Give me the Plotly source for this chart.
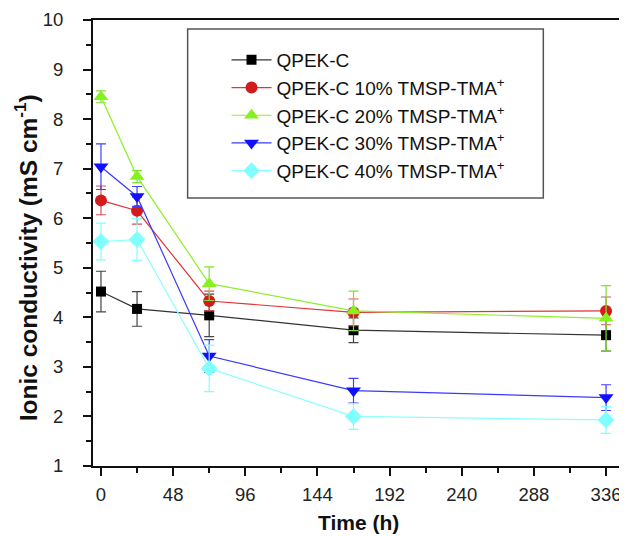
import plotly.graph_objects as go

times = [0, 24, 72, 168, 336]
names = ["QPEK-C",
         "QPEK-C 10% TMSP-TMA<sup>+</sup>",
         "QPEK-C 20% TMSP-TMA<sup>+</sup>",
         "QPEK-C 30% TMSP-TMA<sup>+</sup>",
         "QPEK-C 40% TMSP-TMA<sup>+</sup>"]
qpek_c = [4.52, 4.17, 4.04, 3.74, 3.64]
qpek_c_err = [0.41, 0.35, 0.43, 0.25, 0.32]
tm10 = [6.36, 6.15, 4.33, 4.10, 4.13]
tm10_err = [0.29, 0.27, 0.20, 0.27, 0.28]
tm20 = [8.45, 6.84, 4.68, 4.13, 3.98]
tm20_err = [0.12, 0.12, 0.34, 0.40, 0.66]
tm30 = [7.04, 6.44, 3.22, 2.52, 2.38]
tm30_err = [0.46, 0.20, 0.33, 0.25, 0.26]
tm40 = [5.53, 5.57, 2.97, 2.00, 1.93]
tm40_err = [0.37, 0.42, 0.47, 0.26, 0.27]

xticks = [0, 48, 96, 144, 192, 240, 288, 336]
yticks = [1, 2, 3, 4, 5, 6, 7, 8, 9, 10]

series = [qpek_c, tm10, tm20, tm30, tm40]
errors = [qpek_c_err, tm10_err, tm20_err, tm30_err, tm40_err]
line_colors = ["#333333", "#e03535", "#8cf02a", "#3a3aff", "#8affff"]
marker_colors = ["#000000", "#d01c1c", "#88f020", "#1010ff", "#80ffff"]
err_colors = ["#444444", "#e05050", "#80e030", "#4040ff", "#80ffff"]
symbols = ["square", "circle", "triangle-up", "triangle-down", "diamond"]
sizes = [10, 12, 13, 13, 13]

font = "Arial, 'Liberation Sans', sans-serif"

# page has an 8px body margin: figure is shifted, so size is reduced accordingly
W, H = 619, 528
L, R, T, B = 85, 0, 12, 70
PW, PH = W - L - R, H - T - B


def px(x):  # figure px -> paper x
    return (x - L) / PW


def py(y):  # figure px -> paper y
    return (H - B - y) / PH


fig = go.Figure()
for i in range(5):
    fig.add_trace(go.Scatter(
        x=times, y=series[i], name=names[i], mode="lines+markers",
        line=dict(color=line_colors[i], width=1.2),
        marker=dict(symbol=symbols[i], size=sizes[i], color=marker_colors[i],
                    line=dict(width=0)),
        error_y=dict(type="data", array=errors[i], color=err_colors[i],
                     thickness=1.2, width=5),
        legendgroup="g%d" % i,
    ))

fig.update_layout(
    width=W, height=H,
    margin=dict(l=L, r=R, t=T, b=B, pad=0),
    paper_bgcolor="white", plot_bgcolor="white",
    font=dict(family=font, size=18, color="#222222"),
    showlegend=True,
    legend=dict(x=px(219), y=py(33), xanchor="left", yanchor="top",
                bgcolor="rgba(0,0,0,0)", borderwidth=0,
                font=dict(size=19, color="#111111"),
                itemwidth=40, tracegroupgap=0),
    xaxis=dict(range=[-5.3, 348.6], tickvals=xticks, ticktext=[str(t) for t in xticks],
               showgrid=False, zeroline=False, showline=True, linecolor="#111111",
               linewidth=2, mirror=True, ticks="outside", ticklen=8, tickwidth=1.5,
               tickcolor="#111111", ticklabelstandoff=3,
               minor=dict(dtick=24, tick0=0, ticks="outside", ticklen=5, tickwidth=1.5,
                          tickcolor="#111111", showgrid=False),
               tickfont=dict(size=18.5, color="#222222")),
    yaxis=dict(range=[1, 10], tickvals=yticks, showgrid=False, zeroline=False,
               showline=True, linecolor="#111111", linewidth=2, mirror=True,
               ticks="outside", ticklen=8, tickwidth=1.5, tickcolor="#111111",
               ticklabelstandoff=16,
               minor=dict(dtick=0.5, tick0=0, ticks="outside", ticklen=5, tickwidth=1.5,
                          tickcolor="#111111", showgrid=False),
               tickfont=dict(size=18.5, color="#222222")),
    shapes=[dict(type="rect", xref="paper", yref="paper",
                 x0=px(180), x1=px(537), y0=py(190), y1=py(21),
                 line=dict(color="#555555", width=1.5), fillcolor="rgba(0,0,0,0)",
                 layer="below")],
    annotations=[
        dict(text="<b>Time (h)</b>", xref="paper", yref="paper",
             x=px(351), y=py(514), xanchor="center", yanchor="middle",
             showarrow=False, font=dict(size=21, color="#111111")),
        dict(text="<b>Ionic conductivity (mS cm<sup>-1</sup>)</b>", xref="paper", yref="paper",
             x=px(17), y=py(250), xanchor="center", yanchor="middle",
             textangle=-90, showarrow=False, font=dict(size=24.5, color="#111111")),
    ],
)

fig.write_html("out.html")
